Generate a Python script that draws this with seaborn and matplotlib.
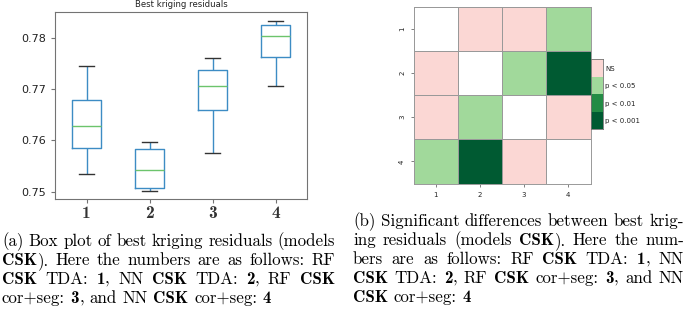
import numpy as np
import pandas as pd
import matplotlib
matplotlib.use('Agg')
import matplotlib.pyplot as plt
import seaborn as sns
from matplotlib.colors import ListedColormap

# box plot values (whisker ends, quartiles, median)
models = ['1', '2', '3', '4']
whisker_low = [0.7534, 0.7502, 0.7575, 0.7707]
q1 = [0.7585, 0.7506, 0.7659, 0.7762]
median = [0.7628, 0.7543, 0.7707, 0.7803]
q3 = [0.7678, 0.7584, 0.7737, 0.7826]
whisker_high = [0.7745, 0.7597, 0.7760, 0.7834]
yticks = [0.75, 0.76, 0.77, 0.78]

# significance matrix (diagonal left empty)
sig_levels = ['NS', 'p < 0.05', 'p < 0.01', 'p < 0.001']
sig_colors = ['#fbd7d4', '#a1d99b', '#238b45', '#005a32']
sig_matrix = [
    ['', 'NS', 'NS', 'p < 0.05'],
    ['NS', '', 'p < 0.05', 'p < 0.001'],
    ['NS', 'p < 0.05', '', 'NS'],
    ['p < 0.05', 'p < 0.001', 'NS', ''],
]

# captions, *...* = bold
caption_a = [
    '(a) Box plot of best kriging residuals (models',
    '*CSK*). Here the numbers are as follows: RF',
    '*CSK* TDA: *1*, NN *CSK* TDA: *2*, RF *CSK*',
    'cor+seg: *3*, and NN *CSK* cor+seg: *4*',
]
caption_b = [
    '(b) Significant differences between best krig-',
    'ing residuals (models *CSK*). Here the num-',
    'bers are as follows: RF *CSK* TDA: *1*, NN',
    '*CSK* TDA: *2*, RF *CSK* cor+seg: *3*, and NN',
    '*CSK* cor+seg: *4*',
]

W, H = 685, 311
fig = plt.figure(figsize=(W / 100, H / 100), dpi=100)

# --- (a) box plot
rows = []
for i, m in enumerate(models):
    for v in (whisker_low[i], q1[i], median[i], q3[i], whisker_high[i]):
        rows.append({'model': m, 'residual': v})
df = pd.DataFrame(rows)

ax1 = fig.add_axes([55 / W, 1 - 199 / H, 252 / W, 187 / H])
sns.boxplot(data=df, x='model', y='residual', order=models, ax=ax1,
            color='#3d8cc4', fill=False, width=0.46, linewidth=1.0,
            medianprops={'color': '#6cc46c', 'linewidth': 1.0},
            capprops={'color': '#333333', 'linewidth': 1.0})
ax1.set_xlabel('')
ax1.set_ylabel('')
ax1.set_yticks(yticks)
ax1.set_yticklabels([f'{t:.2f}' for t in yticks], fontsize=8, color='#222222')
ax1.set_xticks(range(len(models)))
ax1.set_xticklabels(models, fontfamily='cmb10', fontsize=12.5, color='#333333')
ax1.tick_params(color='0.45', length=3)
ax1.tick_params(axis='x', pad=2)
for s in ax1.spines.values():
    s.set_color('0.45')
    s.set_linewidth(0.8)
ax1.set_title('Best kriging residuals', fontsize=6.1, pad=3.4, color='#222222')

# --- (b) significance heatmap
code = {lvl: i + 1 for i, lvl in enumerate(sig_levels)}
code[''] = 0
mat = np.array([[code[c] for c in row] for row in sig_matrix])

ax2 = fig.add_axes([413.5 / W, 1 - 183.5 / H, 177 / W, 177 / H])
sns.heatmap(mat, ax=ax2, cmap=ListedColormap(['white'] + sig_colors),
            vmin=-0.5, vmax=4.5, cbar=False, linewidths=0.7, linecolor='0.6',
            xticklabels=models, yticklabels=models, square=True)
ax2.tick_params(labelsize=5, length=2.5, width=0.5, color='0.3', labelcolor='#222222')
for lab in ax2.get_yticklabels():
    lab.set_rotation(90)
    lab.set_va('center')
for s in ax2.spines.values():
    s.set_visible(True)
    s.set_color('0.6')
    s.set_linewidth(0.7)

cax = fig.add_axes([590.7 / W, 1 - 129.3 / H, 12.6 / W, 70 / H])
sns.heatmap(np.arange(len(sig_levels)).reshape(-1, 1), ax=cax,
            cmap=ListedColormap(sig_colors), vmin=-0.5, vmax=len(sig_levels) - 0.5,
            cbar=False, xticklabels=False, yticklabels=sig_levels)
cax.yaxis.tick_right()
cax.tick_params(axis='y', length=0, pad=1.5, labelsize=5, labelrotation=0, labelcolor='#222222')
for s in cax.spines.values():
    s.set_visible(True)
    s.set_color('0.45')
    s.set_linewidth(0.6)


# --- captions, justified like the LaTeX source
def draw_caption(lines, x0, x1, y0, step, size):
    renderer = fig.canvas.get_renderer()
    for i, line in enumerate(lines):
        y = 1 - (y0 + i * step) / H
        words = []
        for w in line.split(' '):
            parts = w.split('*')
            pieces = []
            for k, p in enumerate(parts):
                if p:
                    t = fig.text(0, y, p, fontsize=size, va='baseline', ha='left',
                                 fontfamily='cmb10' if k % 2 else 'cmr10')
                    pieces.append((t, t.get_window_extent(renderer).width))
            words.append(pieces)
        widths = [sum(pw for _, pw in pieces) for pieces in words]
        if i < len(lines) - 1:
            gap = (x1 - x0 - sum(widths)) / (len(words) - 1)
        else:
            gap = 0.333 * size * 100 / 72
        x = x0
        for pieces, ww in zip(words, widths):
            xx = x
            for t, pw in pieces:
                t.set_x(xx / W)
                xx += pw
            x += ww + gap


draw_caption(caption_a, 2, 335, 246, 19, 12.2)
draw_caption(caption_b, 353, 684, 226, 19, 12.2)

fig.savefig('out.png', dpi=100)
